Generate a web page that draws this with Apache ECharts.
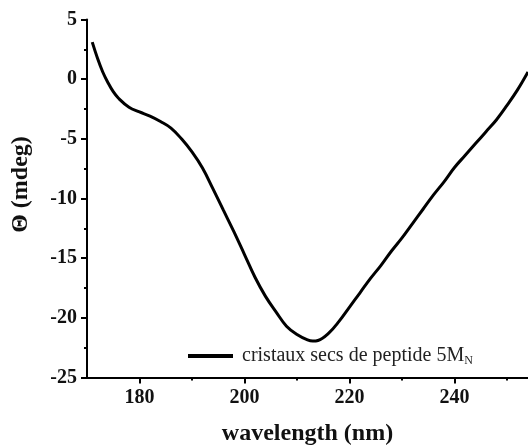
<!DOCTYPE html>
<html>
<head>
<meta charset="utf-8">
<script src="https://cdn.jsdelivr.net/npm/echarts@6/dist/echarts.min.js"></script>
<style>
  html, body { margin: 0; padding: 0; background: #fff; }
  #chart { width: 528px; height: 446px; }
</style>
</head>
<body>
<div id="chart"></div>
<script>
// CD spectrum of dry peptide crystals
const wavelength = [171, 172, 173, 174, 175, 176, 178, 180, 182, 184, 186, 188, 190, 192, 194, 196, 198,
  200, 202, 204, 206, 208, 210, 212, 213, 214, 216, 218, 220, 222, 224, 226, 228, 230, 232, 234, 236,
  238, 240, 242, 244, 246, 248, 250, 252, 254];
const theta = [3.1, 1.75, 0.6, -0.3, -1.05, -1.6, -2.35, -2.75, -3.1, -3.55, -4.1, -5.0, -6.1, -7.45, -9.2,
  -11.0, -12.8, -14.7, -16.6, -18.2, -19.5, -20.7, -21.4, -21.85, -21.95, -21.9, -21.3, -20.3, -19.1,
  -17.9, -16.7, -15.6, -14.4, -13.3, -12.1, -10.9, -9.7, -8.6, -7.4, -6.4, -5.4, -4.4, -3.4, -2.2,
  -0.9, 0.6];
const xMajorTicks = [180, 200, 220, 240];
const xMinorTicks = [190, 210, 230, 250];
const seriesName = 'cristaux secs de peptide 5MN';

const font = '"Liberation Serif", "Times New Roman", serif';
const chart = echarts.init(document.getElementById('chart'));

const option = {
  backgroundColor: '#fff',
  animation: false,
  grid: { left: 87, top: 19.5, width: 441, height: 358, outerBoundsMode: 'none' },
  legend: {
    left: 183,
    top: 341,
    icon: 'rect',
    itemWidth: 45,
    itemHeight: 4,
    data: [seriesName],
    formatter: () => '{a|cristaux secs de peptide 5M}{sub|N}',
    textStyle: {
      padding: [0, 0, 0, 4],
      rich: {
        a: { fontFamily: font, fontSize: 20, color: '#222' },
        sub: { fontFamily: font, fontSize: 12, color: '#222', padding: [10, 0, 0, 0] }
      }
    }
  },
  xAxis: [
    {
      type: 'value',
      min: 170,
      max: 254,
      name: 'wavelength (nm)',
      nameLocation: 'middle',
      nameGap: 44,
      nameTextStyle: { fontFamily: font, fontSize: 24, fontWeight: 'bold', color: '#111' },
      splitLine: { show: false },
      axisLine: { onZero: false, lineStyle: { color: '#000', width: 2 } },
      axisTick: { customValues: xMajorTicks, length: 6, lineStyle: { color: '#000', width: 2 } },
      axisLabel: {
        customValues: xMajorTicks, margin: 10,
        fontFamily: font, fontSize: 20, fontWeight: 'bold', color: '#111'
      }
    },
    {
      type: 'value',
      min: 170,
      max: 254,
      position: 'bottom',
      splitLine: { show: false },
      axisLine: { show: false, onZero: false },
      axisTick: { customValues: xMinorTicks, length: 3, lineStyle: { color: '#000', width: 2 } },
      axisLabel: { show: false }
    }
  ],
  yAxis: {
    type: 'value',
    min: -25,
    max: 5,
    interval: 5,
    name: 'Θ (mdeg)',
    nameLocation: 'middle',
    nameGap: 54,
    nameTextStyle: {
      fontFamily: font, fontSize: 24, fontWeight: 'bold', color: '#111',
      padding: [0, 0, 0, 28]
    },
    splitLine: { show: false },
    axisLine: { show: true, onZero: false, lineStyle: { color: '#000', width: 2 } },
    axisTick: { show: true, length: 6, lineStyle: { color: '#000', width: 2 } },
    minorTick: { show: true, splitNumber: 2, length: 3, lineStyle: { color: '#000', width: 2 } },
    axisLabel: { margin: 10, fontFamily: font, fontSize: 20, fontWeight: 'bold', color: '#111' }
  },
  series: [
    {
      name: seriesName,
      type: 'line',
      xAxisIndex: 0,
      data: wavelength.map((w, i) => [w, theta[i]]),
      smooth: 0.4,
      showSymbol: false,
      lineStyle: { color: '#000', width: 3 },
      itemStyle: { color: '#000' }
    }
  ]
};

chart.setOption(option);
</script>
</body>
</html>
